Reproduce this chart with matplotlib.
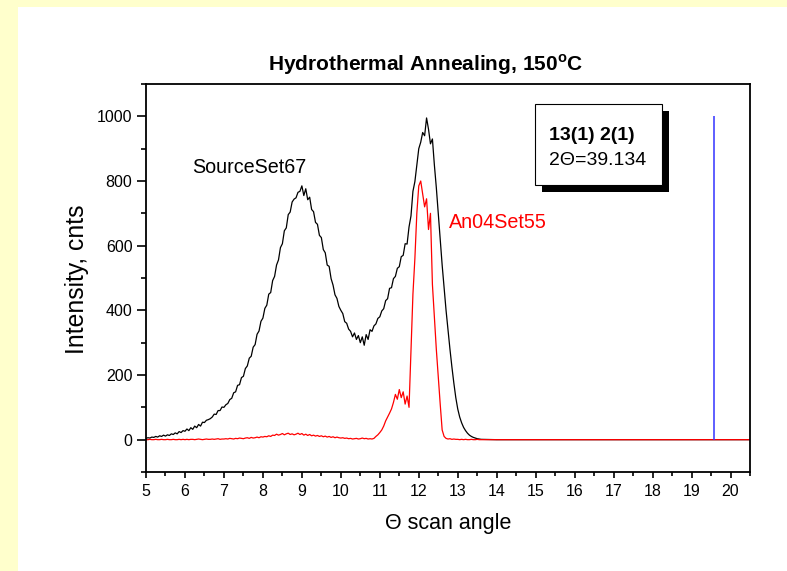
import numpy as np
import matplotlib
matplotlib.use('Agg')
import matplotlib.pyplot as plt
from matplotlib.patches import Rectangle
from matplotlib.ticker import MultipleLocator

plt.rcParams['font.family'] = ['Liberation Sans', 'DejaVu Sans']
plt.rcParams['mathtext.fontset'] = 'custom'
plt.rcParams['mathtext.rm'] = 'Liberation Sans'
plt.rcParams['mathtext.bf'] = 'Liberation Sans:bold'

# ── Data ─────────────────────────────────────────────────────────
# scan grid 5.00 .. 13.60 every 0.05, then a flat tail
theta_main = np.round(np.arange(5.0, 13.6001, 0.05), 2)
theta_tail = [14.0, 20.5]

source_set67 = [
    4, 6, 5, 8, 7, 10, 8, 12, 10, 14, 11, 15, 13, 18, 16, 21, 18, 25, 22, 28,
    26, 33, 28, 37, 32, 42, 37, 47, 42, 54, 53, 60, 62, 65, 70, 79, 78, 90, 90, 101,
    100, 108, 112, 124, 128, 145, 148, 168, 170, 192, 196, 220, 228, 252, 258, 286, 294, 326, 336, 366,
    376, 406, 416, 450, 455, 492, 505, 540, 556, 594, 606, 646, 655, 696, 704, 735, 744, 748, 765, 768,
    785, 755, 776, 742, 750, 712, 705, 672, 666, 632, 625, 588, 578, 540, 536, 498, 478, 448, 437, 412,
    400, 390, 365, 360, 342, 335, 318, 330, 310, 322, 300, 318, 292, 325, 310, 340, 335, 352, 358, 375,
    380, 398, 405, 430, 436, 468, 470, 498, 505, 530, 535, 566, 570, 606, 605, 658, 692, 768, 798, 848,
    900, 920, 950, 940, 995, 960, 915, 930, 850, 780, 700, 620, 540, 470, 400, 340, 280, 225, 175, 130,
    95, 70, 52, 38, 28, 20, 14, 10, 7, 5, 3, 2, 1,
]
an04_set55 = [
    0, 0, 1, 0, 0, 1, 0, 0, 1, 0, 0, 1, 0, 0, 1, 0, 0, 1, 0, 1,
    0, 1, 0, 1, 1, 0, 1, 2, 1, 0, 1, 2, 1, 1, 2, 1, 2, 3, 1, 2,
    2, 3, 2, 4, 3, 2, 4, 3, 5, 4, 3, 5, 6, 4, 7, 5, 6, 8, 6, 9,
    8, 10, 9, 12, 10, 14, 13, 17, 14, 16, 19, 15, 18, 20, 16, 18, 15, 17, 20, 16,
    19, 14, 17, 13, 16, 12, 14, 11, 13, 10, 12, 9, 11, 8, 10, 7, 9, 6, 8, 6,
    5, 6, 4, 5, 3, 4, 2, 3, 4, 2, 3, 5, 3, 4, 2, 3, 2, 4, 10, 15,
    22, 30, 42, 58, 70, 82, 95, 115, 140, 125, 155, 130, 148, 110, 135, 100, 280, 450, 560, 700,
    785, 800, 760, 720, 745, 650, 700, 480, 380, 280, 193, 110, 30, 10, 4, 2, 3, 1, 2, 1,
    1, 0, 1, 0, 1, 0, 0, 1, 0, 0, 1, 0, 0,
]
tail_values = [0, 0]

peak_theta = 19.567      # 2Θ = 39.134
peak_height = 1000
peak_hkl = "13(1) 2(1)"
peak_label = "2\u0398=39.134"

theta = np.concatenate([theta_main, theta_tail])
y_black = np.concatenate([source_set67, tail_values])
y_red = np.concatenate([an04_set55, tail_values])

# ── Figure ───────────────────────────────────────────────────────
W, H = 787, 571
fig = plt.figure(figsize=(W / 100, H / 100), dpi=100, facecolor='#FFFFCC')
fig.patches.append(Rectangle((18 / W, 0), 1 - 18 / W, 1 - 7 / H, transform=fig.transFigure,
                             facecolor='white', edgecolor='none', zorder=-1))

ax = fig.add_axes([146 / W, 1 - 472 / H, (750 - 146) / W, (472 - 84) / H])
ax.set_zorder(1)
ax.plot(theta, y_black, color='black', lw=0.9)
ax.plot(theta, y_red, color='red', lw=0.9)
ax.vlines(peak_theta, 0, peak_height, color='#3333ff', lw=1.1)

ax.set_xlim(5, 20.5)
ax.set_ylim(-100, 1100)
ax.xaxis.set_major_locator(MultipleLocator(1))
ax.xaxis.set_minor_locator(MultipleLocator(0.5))
ax.yaxis.set_major_locator(MultipleLocator(200))
ax.yaxis.set_minor_locator(MultipleLocator(100))
ax.tick_params(axis='x', which='major', direction='out', length=4.3, width=1.2, labelsize=11.5, pad=4)
ax.tick_params(axis='x', which='minor', direction='out', length=3, width=1.2)
ax.tick_params(axis='y', which='major', direction='out', length=6.3, width=1.2, labelsize=11.5, pad=3.5)
ax.tick_params(axis='y', which='minor', direction='out', length=3.6, width=1.2)
for s in ax.spines.values():
    s.set_linewidth(1.3)

ax.set_xlabel('\u0398 scan angle', fontsize=15.5)
ax.xaxis.set_label_coords(0.5, -0.105)
fig.text(77 / W, 1 - 279 / H, 'Intensity, cnts', rotation=90, fontsize=17.8,
         ha='center', va='center')

fig.text(426 / W, 1 - 71 / H, r'Hydrothermal Annealing, 150$^\mathbf{o}$C',
         fontsize=15, fontweight='bold', ha='center', va='baseline')

fig.text(192 / W, 1 - 173 / H, 'SourceSet67', fontsize=14.2, color='black', va='baseline', zorder=5)
fig.text(449 / W, 1 - 228 / H, 'An04Set55', fontsize=14.2, color='red', va='baseline', zorder=5)

# peak label box with drop shadow
bx0, by0, bx1, by1 = 535, 104, 662, 185
fig.patches.append(Rectangle(((bx0 + 7) / W, 1 - (by1 + 7) / H), (bx1 - bx0) / W, (by1 - by0) / H,
                             transform=fig.transFigure, facecolor='black', edgecolor='none', zorder=3))
fig.patches.append(Rectangle((bx0 / W, 1 - by1 / H), (bx1 - bx0) / W, (by1 - by0) / H,
                             transform=fig.transFigure, facecolor='white', edgecolor='black',
                             lw=0.8, zorder=4))
fig.text(549 / W, 1 - 140 / H, peak_hkl, fontsize=14, fontweight='bold', va='baseline', zorder=5)
fig.text(549 / W, 1 - 165 / H, peak_label, fontsize=14, va='baseline', zorder=5)

plt.savefig('out.png', dpi=100, facecolor=fig.get_facecolor())
